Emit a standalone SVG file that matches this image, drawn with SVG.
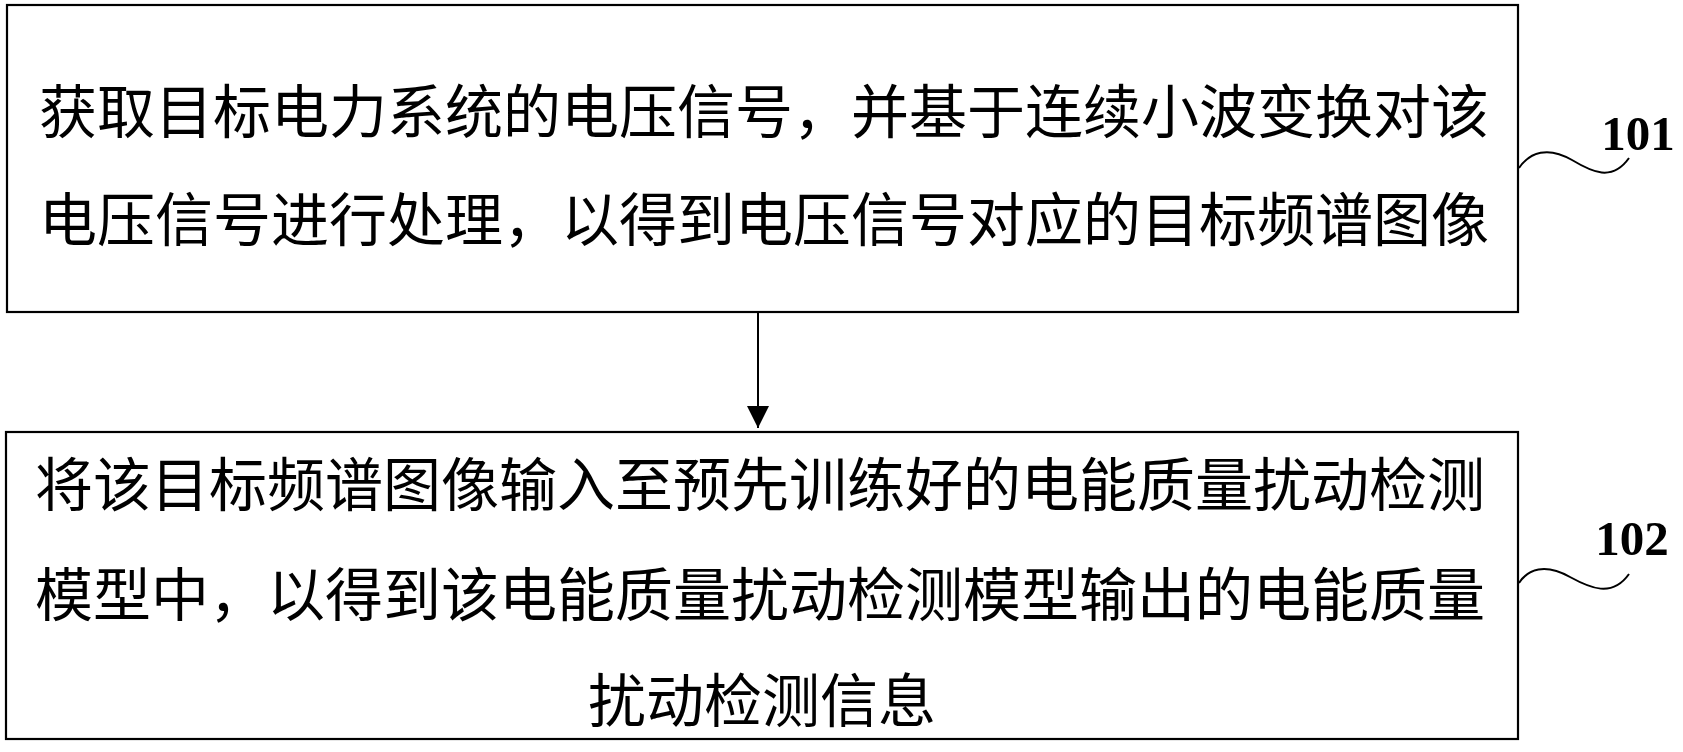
<svg xmlns="http://www.w3.org/2000/svg" width="1683" height="752" viewBox="0 0 1683 752">
<defs>
<style>
.box{fill:#fff;stroke:#000;stroke-width:2.2}
.t{font-family:"Noto Sans CJK SC","Noto Sans CJK JP",sans-serif;font-size:58px;fill:#000;text-anchor:middle}
.lbl{font-family:"Liberation Serif","Times New Roman",serif;font-size:49px;font-weight:bold;fill:#000;text-anchor:middle}
.sq{fill:none;stroke:#000;stroke-width:2}
.c{stroke:#000;stroke-width:2;fill:none}
</style>
<marker id="ah" markerWidth="22" markerHeight="22" refX="22" refY="11" orient="auto" markerUnits="userSpaceOnUse" viewBox="0 0 22 22">
<path d="M0,0 L22,11 L0,22 Z" fill="#000"/>
</marker>
</defs>
<rect width="1683" height="752" fill="#fff"/>
<g id="node101">
<rect class="box" x="7" y="5" width="1511" height="307"/>
<text class="t" x="764" y="133">获取目标电力系统的电压信号，并基于连续小波变换对该</text>
<text class="t" x="764" y="241">电压信号进行处理，以得到电压信号对应的目标频谱图像</text>
<path class="sq" d="M1519,168 C1530,152 1548,146 1572,160 C1592,172 1612,182 1629,158"/>
<text class="lbl" x="1638" y="150">101</text>
</g>
<g id="node102">
<rect class="box" x="6" y="432" width="1512" height="307"/>
<text class="t" x="760" y="506">将该目标频谱图像输入至预先训练好的电能质量扰动检测</text>
<text class="t" x="760" y="616">模型中，以得到该电能质量扰动检测模型输出的电能质量</text>
<text class="t" x="762" y="722">扰动检测信息</text>
<path class="sq" d="M1519,583 C1528,569 1545,563 1570,577 C1590,588 1612,598 1629,574"/>
<text class="lbl" x="1632" y="555">102</text>
</g>
<g id="connectors">
<line class="c" x1="758" y1="312" x2="758" y2="428" marker-end="url(#ah)"/>
</g>
</svg>
